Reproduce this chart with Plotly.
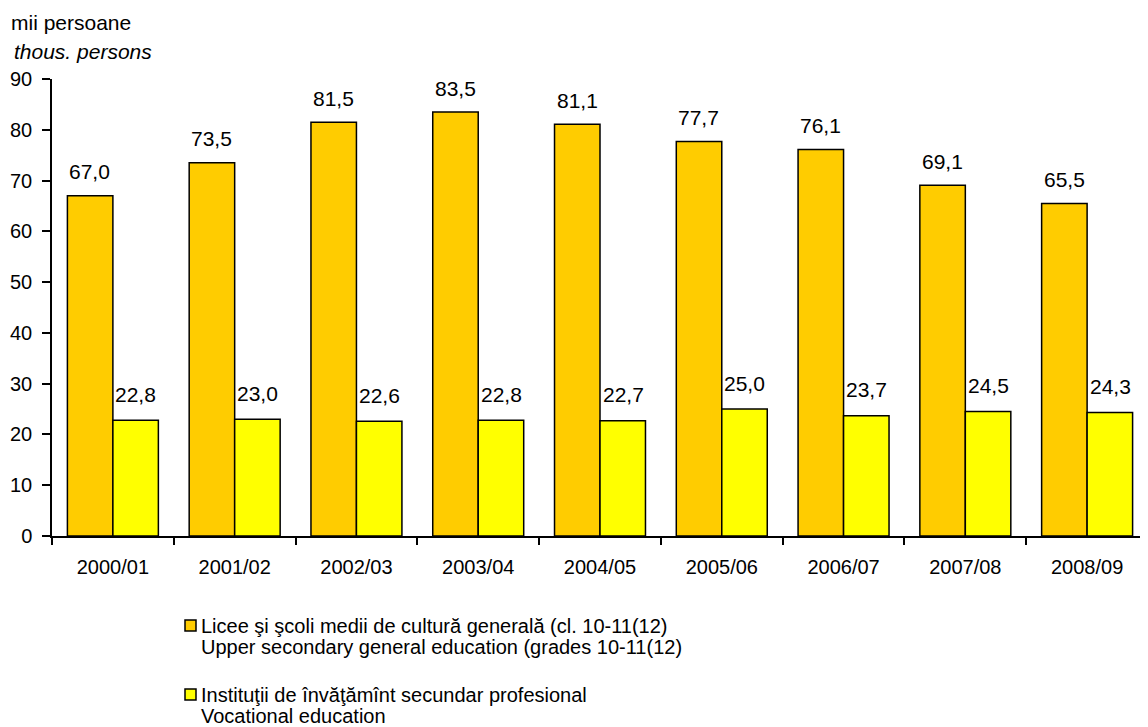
import plotly.graph_objects as go

years = ["2000/01", "2001/02", "2002/03", "2003/04", "2004/05",
         "2005/06", "2006/07", "2007/08", "2008/09"]
general = [67.0, 73.5, 81.5, 83.5, 81.1, 77.7, 76.1, 69.1, 65.5]
vocational = [22.8, 23.0, 22.6, 22.8, 22.7, 25.0, 23.7, 24.5, 24.3]

legend_general = ["Licee şi şcoli medii de cultură generală (cl. 10-11(12)",
                  "Upper secondary general education (grades 10-11(12)"]
legend_vocational = ["Instituţii de învăţămînt secundar profesional",
                     "Vocational education"]

ORANGE = "#FFCC00"
YELLOW = "#FFFF00"
FONT = "Liberation Sans, Arial, sans-serif"

# the page body adds an 8px margin, so the figure is drawn 8px in from the
# window corner; size it to fill the rest of the 1148x727 window
OFF = 8
W, H = 1148 - OFF, 727 - OFF
L, R, T, B = 52 - OFF, 0, 79 - OFF, 191
PW, PH = W - L - R, H - T - B


def px(x):
    # window pixel column -> paper x
    return (x - OFF - L) / PW


def py(y):
    # window pixel row -> paper y
    return (H - B - (y - OFF)) / PH


fig = go.Figure()
fig.add_trace(go.Bar(x=years, y=general, name=legend_general[0],
                     marker=dict(color=ORANGE, line=dict(color="black", width=1.5))))
fig.add_trace(go.Bar(x=years, y=vocational, name=legend_vocational[0],
                     marker=dict(color=YELLOW, line=dict(color="black", width=1.5))))

# value labels with decimal comma
for yr, g, v in zip(years, general, vocational):
    fig.add_annotation(x=yr, y=g, text=f"{g:.1f}".replace(".", ","),
                       xshift=-23, yshift=24, showarrow=False,
                       font=dict(size=21, color="black"))
    fig.add_annotation(x=yr, y=v, text=f"{v:.1f}".replace(".", ","),
                       xshift=23, yshift=26, showarrow=False,
                       font=dict(size=21, color="black"))

# unit labels, top left
fig.add_annotation(xref="paper", yref="paper", x=px(9), y=py(22),
                   xanchor="left", yanchor="middle", text="mii persoane",
                   showarrow=False, font=dict(size=21))
fig.add_annotation(xref="paper", yref="paper", x=px(12), y=py(51),
                   xanchor="left", yanchor="middle", text="<i>thous. persons</i>",
                   showarrow=False, font=dict(size=21))

# legend drawn by hand: square + two text lines per entry
for color, lines, top in [(ORANGE, legend_general, 620),
                          (YELLOW, legend_vocational, 689)]:
    fig.add_shape(type="rect", xref="paper", yref="paper",
                  x0=px(185), x1=px(196), y0=py(top), y1=py(top + 11),
                  fillcolor=color, line=dict(color="black", width=1.5))
    for i, line in enumerate(lines):
        fig.add_annotation(xref="paper", yref="paper", x=px(199),
                           y=py(top + 6 + 21 * i), xanchor="left",
                           yanchor="middle", text=line, showarrow=False,
                           font=dict(size=20))

fig.update_layout(
    width=W, height=H,
    margin=dict(l=L, r=R, t=T, b=B),
    paper_bgcolor="white", plot_bgcolor="white",
    font=dict(family=FONT, size=20, color="black"),
    barmode="group", bargap=0.253, bargroupgap=0,
    showlegend=False,
    xaxis=dict(showline=True, linecolor="black", linewidth=1.5,
               ticks="outside", tickson="boundaries", ticklen=7,
               tickcolor="black", tickwidth=1.5, showgrid=False,
               automargin=False, ticklabelstandoff=12),
    yaxis=dict(range=[0, 90], dtick=10, showline=True, linecolor="black",
               linewidth=1.5, ticks="outside", ticklen=8, tickcolor="black",
               tickwidth=1.5, showgrid=False, zeroline=False,
               automargin=False, ticklabelstandoff=6),
)

fig.write_html("out.html")
